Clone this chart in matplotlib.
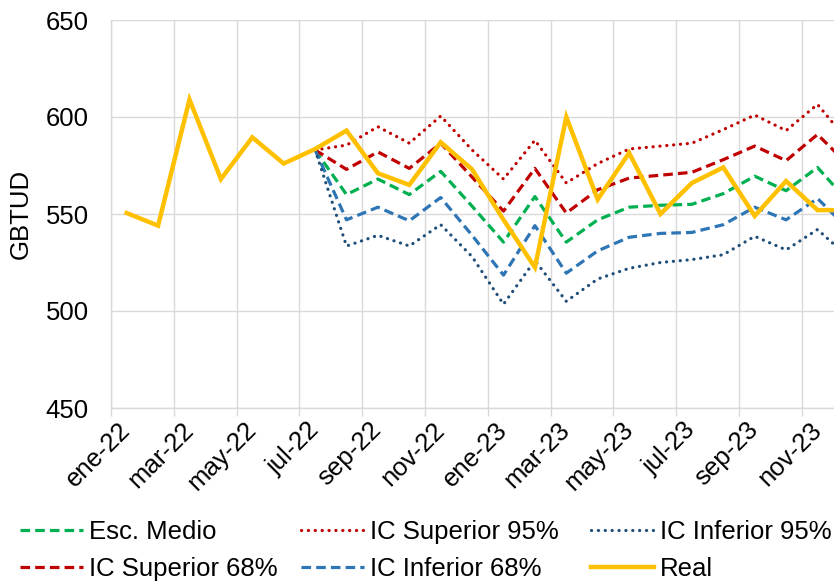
import numpy as np
import matplotlib
matplotlib.use("Agg")
import matplotlib.pyplot as plt

plt.rcParams['font.family'] = ['Liberation Sans', 'DejaVu Sans']

#%% data (GBTUD, monthly ene-22 .. dic-23)

months = ["ene-22", "feb-22", "mar-22", "abr-22", "may-22", "jun-22",
          "jul-22", "ago-22", "sep-22", "oct-22", "nov-22", "dic-22",
          "ene-23", "feb-23", "mar-23", "abr-23", "may-23", "jun-23",
          "jul-23", "ago-23", "sep-23", "oct-23", "nov-23", "dic-23"]

nan = np.nan
real = [550.5, 544, 609, 568, 589.5, 576, 583.5, 593, 571, 565, 587, 573,
        547, 522.5, 600, 557.5, 581.5, 550, 566, 574, 549, 567, 552, 552]
esc_medio = [nan] * 6 + [583, 560, 568, 560, 572, 554, 535.5, 559, 535.5,
                         547, 553.5, 554.5, 555, 560.5, 569.5, 562, 574, 556]
ic_sup_68 = [nan] * 6 + [583, 573, 582, 573.5, 586.5, 569, 551.5, 573.5,
                         550.5, 562.5, 568.5, 570, 571.5, 578, 585, 577.5,
                         591, 575]
ic_sup_95 = [nan] * 6 + [583, 585.5, 595, 586.5, 600.5, 583, 568, 588, 566,
                         576, 583.5, 585, 586.5, 593.5, 601, 593, 606.5, 587]
ic_inf_68 = [nan] * 6 + [583, 547, 553.5, 546.5, 558.5, 539, 518.5, 544,
                         519.5, 531, 538, 540, 540.5, 544.5, 553.5, 547, 558,
                         542]
ic_inf_95 = [nan] * 6 + [583, 533.5, 539, 533.5, 544.5, 528, 503.5, 526,
                         505, 516.5, 522, 525, 526.5, 529, 538.5, 531.5,
                         542, 527.5]

#%%

FS = 18.5
x = np.arange(len(months))
dash = (0, (3.0, 1.6))
dot = (0, (0.05, 2.1))

fig = plt.figure(figsize=(8.34, 5.82), dpi=100)
# plot area is wider than the picture: the original is cut at the right
ax = fig.add_axes([111 / 834, 174 / 582, 753.6 / 834, 388 / 582])

l_medio, = ax.plot(x, esc_medio, color="#00B050", lw=2.3, linestyle=dash,
                   label="Esc. Medio")
l_sup68, = ax.plot(x, ic_sup_68, color="#C00000", lw=2.3, linestyle=dash,
                   label="IC Superior 68%")
l_sup95, = ax.plot(x, ic_sup_95, color="#C00000", lw=2.3, linestyle=dot,
                   dash_capstyle="round", label="IC Superior 95%")
l_inf68, = ax.plot(x, ic_inf_68, color="#2E75B6", lw=2.3, linestyle=dash,
                   label="IC Inferior 68%")
l_inf95, = ax.plot(x, ic_inf_95, color="#1F4E79", lw=2.3, linestyle=dot,
                   dash_capstyle="round", label="IC Inferior 95%")
l_real, = ax.plot(x, real, color="#FFC000", lw=3.2, solid_joinstyle="miter",
                  label="Real")

ax.set_xlim(-0.5, len(months) - 0.5)
ax.set_ylim(450, 650)
ax.set_yticks([450, 500, 550, 600, 650])

# labels on every second month, tick marks / grid between categories
ax.set_xticks(x[::2])
ax.set_xticklabels(months[::2], rotation=45, ha="right", va="center",
                   rotation_mode="anchor")
ax.set_xticks(np.arange(-0.5, len(months), 2), minor=True)
ax.tick_params(axis="x", which="major", length=0, pad=13, labelsize=FS)
ax.tick_params(axis="x", which="minor", length=6, width=1, color="#D9D9D9")
ax.tick_params(axis="y", length=0, pad=16, labelsize=FS)

ax.grid(True, axis="y", color="#D9D9D9", lw=1.0)
ax.grid(True, axis="x", which="minor", color="#D9D9D9", lw=1.0)
ax.set_axisbelow(True)
for side in ["top", "right"]:
    ax.spines[side].set_visible(False)
for side in ["left", "bottom"]:
    ax.spines[side].set_color("#D9D9D9")
    ax.spines[side].set_linewidth(1.0)

ax.set_ylabel("GBTUD", fontsize=FS, labelpad=9)

# legend: three columns, placed one by one like the Excel legend
columns = [(l_medio, l_sup68), (l_sup95, l_inf68), (l_inf95, l_real)]
col_left = [20, 301, 591]
for handles, left in zip(columns, col_left):
    fig.legend(handles=list(handles), labels=[h.get_label() for h in handles],
               loc="upper left", bbox_to_anchor=(left / 834, 1 - 520 / 582),
               frameon=False, fontsize=FS, handlelength=2.45,
               handletextpad=0.25, labelspacing=0.5, borderpad=0,
               borderaxespad=0)

fig.savefig("out.png", dpi=100)
